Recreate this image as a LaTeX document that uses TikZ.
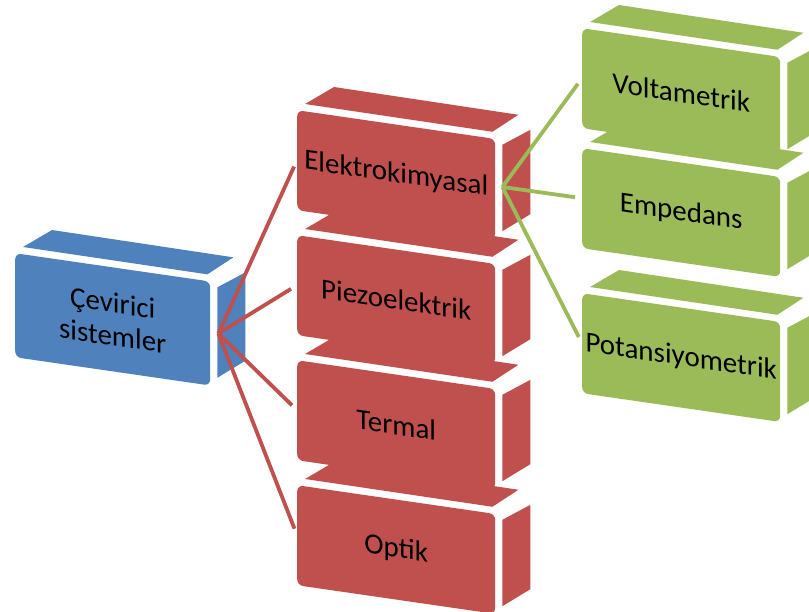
\documentclass[tikz,border=0pt]{standalone}
\usepackage{fontspec}
\setmainfont{Carlito}
\usetikzlibrary{calc}

\definecolor{blueF}{HTML}{4F81BD}
\definecolor{redF}{HTML}{C0504D}
\definecolor{greenF}{HTML}{9BBB59}

\begin{document}
\begin{tikzpicture}[x=1pt, y=-1pt,
  box/.style={rectangle, rounded corners=6pt, minimum width=198pt, minimum height=100pt,
    inner sep=0pt, anchor=north west, yslant=-0.145, align=center,
    font=\fontsize{29}{33}\selectfont},
  rl/.style={line width=3.8pt, redF, shorten >=7pt},
  gl/.style={line width=3.8pt, greenF, shorten >=7pt}]

  \useasboundingbox (0,0) rectangle (809,611);

  % front faces
  \node[box, fill=blueF, minimum width=195pt, minimum height=104pt] (cev) at (15,253) {Çevirici\\sistemler};
  \node[box, fill=redF] (elektro) at (297,110) {Elektrokimyasal};
  \node[box, fill=redF] (piezo) at (297,235) {Piezoelektrik};
  \node[box, fill=redF] (termal) at (297,360) {Termal};
  \node[box, fill=redF] (optik) at (297,485) {Optik};
  \node[box, fill=greenF] (volta) at (582,28) {Voltametrik};
  \node[box, fill=greenF] (emped) at (582,148) {Empedans};
  \node[box, fill=greenF] (potans) at (582,293) {Potansiyometrik};

  % top and side faces
  \foreach \n/\c in {cev/blueF, elektro/redF, piezo/redF, termal/redF, optik/redF,
                     volta/greenF, emped/greenF, potans/greenF} {
    \fill[\c] ($(\n.north west)+(8,-6)$) -- ($(\n.north west)+(37,-23)$)
      -- ($(\n.north east)+(23,-24)$) -- ($(\n.north east)+(-3,-7)$) -- cycle;
    \fill[\c] ($(\n.north east)+(7,6)$) -- ($(\n.north east)+(35,-9)$)
      -- ($(\n.south east)+(35,-25)$) -- ($(\n.south east)+(7,-8)$) -- cycle;
  }

  \coordinate (hub) at ($(cev.east)+(8,0)$);
  \coordinate (hub2) at ($(elektro.east)+(7,-2)$);

  \draw[rl] (hub) -- (elektro.west);
  \draw[rl] (hub) -- (piezo.west);
  \draw[rl] (hub) -- (termal.west);
  \draw[rl] (hub) -- (optik.west);

  \draw[gl] (hub2) -- (volta.west);
  \draw[gl] (hub2) -- (emped.west);
  \draw[gl] (hub2) -- (potans.west);
\end{tikzpicture}
\end{document}
